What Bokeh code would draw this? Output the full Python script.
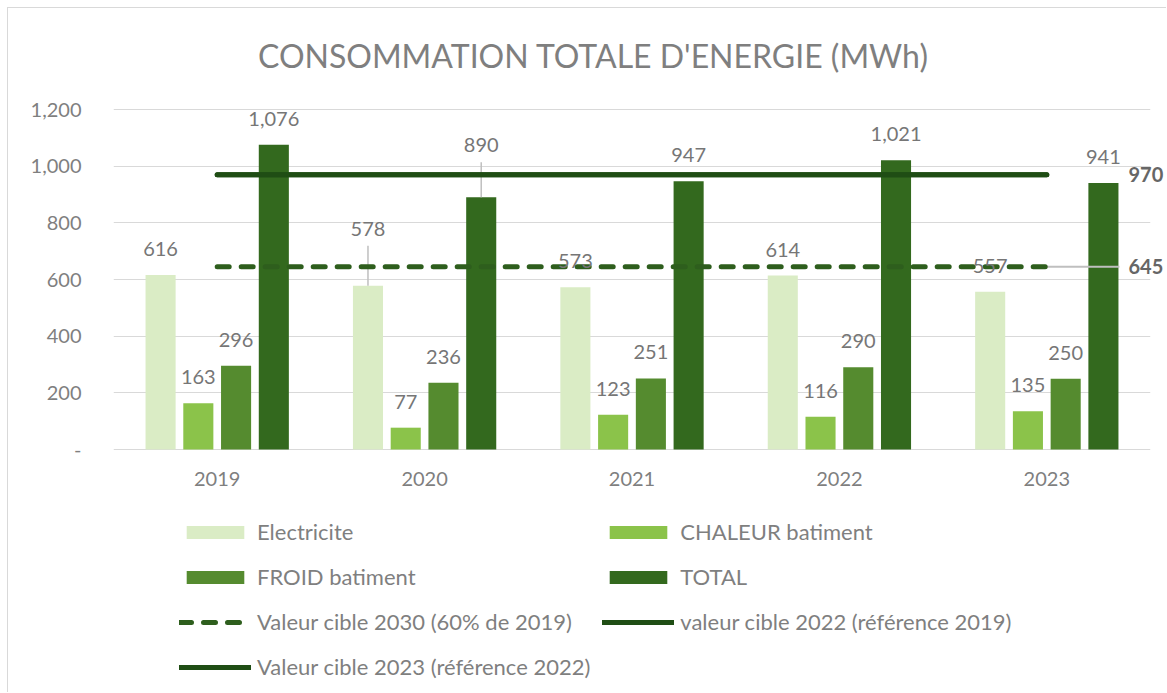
from bokeh.plotting import figure
from bokeh.models import (ColumnDataSource, FactorRange, Range1d, LabelSet, Label, LinearAxis,
                          Legend, LegendItem, FixedTicker, NumeralTickFormatter)
from bokeh.transform import dodge
from bokeh.core.properties import value
from bokeh.embed import file_html
from bokeh.resources import INLINE

# ---------------- data ----------------
years = ["2019", "2020", "2021", "2022", "2023"]
electricite = [616, 578, 573, 614, 557]
chaleur = [163, 77, 123, 116, 135]
froid = [296, 236, 251, 290, 250]
total = [1076, 890, 947, 1021, 941]
cible_2030 = [645, 645, 645, 645, 645]
cible_2022 = [970, 970, 970, 970, 970]
cible_2023 = [970, 970, 970, 970, 970]
y_ticks = [0, 200, 400, 600, 800, 1000, 1200]

title_text = "CONSOMMATION TOTALE D'ENERGIE (MWh)"
series_names = ["Electricite", "CHALEUR batiment", "FROID batiment", "TOTAL"]
line_names = ["Valeur cible 2030 (60% de 2019)", "valeur cible 2022 (référence 2019)",
              "Valeur cible 2023 (référence 2022)"]

# ---------------- layout / styles ----------------
OFF = 8                                # chart-area border offset (7px margin + 1px border)
W, H = 1159, 685
FRAME_LEFT, FRAME_RIGHT = 113 - OFF, 1150 - OFF
TOP_PX, ZERO_PX = 109 - OFF, 449 - OFF  # pixel rows of 1200 and 0
UNIT_PER_PX = 1200.0 / (ZERO_PX - TOP_PX)
Y_START = -(H - ZERO_PX) * UNIT_PER_PX
Y_END = 1200 + TOP_PX * UNIT_PER_PX

FONT = "Lato"
bar_colors = ["#DAECC5", "#8BC34A", "#558B2F", "#33691E"]
offsets = [-0.273, -0.091, 0.091, 0.273]
BAR_W = 0.145
LABEL_GREY = "#767676"
AXIS_GREY = "#7f7f7f"
GRID = "#d9d9d9"
DASH_COLOR = "#2E5E1D"
SOLID_COLOR = "#1F4D14"
LABEL_OFF = 26
label_shift = {(0, "2020"): 57, (3, "2020"): 52}   # labels moved up with leader lines

cols = {"e": electricite, "c": chaleur, "f": froid, "t": total}
keys = ["e", "c", "f", "t"]
data = dict(year=years, c2030=cible_2030, c2022=cible_2022, c2023=cible_2023)
for i, k in enumerate(keys):
    data[k] = cols[k]
    data[k + "_lbl"] = ["{:,}".format(v) for v in cols[k]]
    data[k + "_off"] = [label_shift.get((i, y), LABEL_OFF) for y in years]
src = ColumnDataSource(data)

p = figure(x_range=FactorRange(*years), y_range=Range1d(Y_START, Y_END),
           width=W, height=H, output_backend="svg", toolbar_location=None,
           x_axis_location=None,
           min_border_left=FRAME_LEFT, min_border_right=W - FRAME_RIGHT, min_border_top=0,
           min_border_bottom=0,
           styles={"margin-left": "7px", "margin-top": "7px",
                   "border-left": "1px solid #d9d9d9", "border-top": "1px solid #d9d9d9"})
p.outline_line_color = None
p.background_fill_color = "white"
p.xgrid.grid_line_color = None
p.ygrid.grid_line_color = GRID
p.ygrid.grid_line_width = 1

p.yaxis.ticker = FixedTicker(ticks=y_ticks)
p.yaxis.formatter = NumeralTickFormatter(format="0,0")
p.yaxis.major_label_overrides = {0: "-"}
p.yaxis.axis_line_color = None
p.yaxis.major_tick_line_color = None
p.yaxis.minor_tick_line_color = None
p.yaxis.major_tick_out = 0
p.yaxis.major_label_standoff = 32
p.yaxis.major_label_text_font = FONT
p.yaxis.major_label_text_font_size = "20px"
p.yaxis.major_label_text_color = AXIS_GREY

# right-hand value labels of the target lines
end_axis = LinearAxis(ticker=FixedTicker(ticks=[cible_2030[-1], cible_2022[-1]]),
                      formatter=NumeralTickFormatter(format="0,0"))
end_axis.axis_line_color = None
end_axis.major_tick_line_color = None
end_axis.minor_tick_line_color = None
end_axis.major_tick_out = 0
end_axis.major_tick_in = 0
end_axis.major_label_standoff = -22
end_axis.major_label_text_font = FONT
end_axis.major_label_text_font_size = "20px"
end_axis.major_label_text_font_style = "bold"
end_axis.major_label_text_color = "#666666"
p.add_layout(end_axis, "right")

# bars
bar_renderers = []
for i, k in enumerate(keys):
    r = p.vbar(x=dodge("year", offsets[i], range=p.x_range), top=k, width=BAR_W,
               source=src, fill_color=bar_colors[i], line_color=None)
    bar_renderers.append(r)

# leader lines for moved labels
for (i, yr), sh in label_shift.items():
    k = keys[i]
    v = cols[k][years.index(yr)]
    lsrc = ColumnDataSource(dict(year=[yr], y0=[v], y1=[v + (sh - 17) * UNIT_PER_PX]))
    x = dodge("year", offsets[i], range=p.x_range)
    p.segment(x0=x, y0="y0", x1=x, y1="y1", source=lsrc, line_color="#bfbfbf", line_width=1.5)

# leader line for 645 label
lead_src = ColumnDataSource(dict(year=[years[-1]], y=[cible_2030[-1]]))
p.segment(x0=dodge("year", 0.0, range=p.x_range), y0="y",
          x1=dodge("year", 0.35, range=p.x_range), y1="y",
          source=lead_src, line_color="#bfbfbf", line_width=2)

# target lines
l2030 = p.line(x="year", y="c2030", source=src, line_color=DASH_COLOR, line_width=5,
               line_dash="12 12", line_cap="round")
l2022 = p.line(x="year", y="c2022", source=src, line_color=SOLID_COLOR, line_width=5,
               line_cap="round")
l2023 = p.line(x="year", y="c2023", source=src, line_color=SOLID_COLOR, line_width=5,
               line_cap="round")

# data labels
for i, k in enumerate(keys):
    ls = LabelSet(x=dodge("year", offsets[i], range=p.x_range), y=k, text=k + "_lbl",
                  y_offset=k + "_off", source=src, text_align="center",
                  text_baseline="middle", text_font=value(FONT), text_font_size="20px",
                  text_color=LABEL_GREY)
    p.add_layout(ls)

# category labels (x axis)
p.add_layout(LabelSet(x="year", y=0, text="year", y_offset=-29, source=src,
                      text_align="center", text_baseline="middle", text_font=value(FONT),
                      text_font_size="20px", text_color=AXIS_GREY))

# title
p.add_layout(Label(x=2.314, y=1200 + (109 - 55) * UNIT_PER_PX, text=title_text,
                   text_align="center", text_baseline="middle", text_font=FONT,
                   text_font_size="32px", text_color=AXIS_GREY))

# legend
items = [
    LegendItem(label=series_names[0], renderers=[bar_renderers[0]]),
    LegendItem(label=series_names[1], renderers=[bar_renderers[1]]),
    LegendItem(label=series_names[2], renderers=[bar_renderers[2]]),
    LegendItem(label=series_names[3], renderers=[bar_renderers[3]]),
    LegendItem(label=line_names[0], renderers=[l2030]),
    LegendItem(label=line_names[1], renderers=[l2022]),
    LegendItem(label=line_names[2], renderers=[l2023]),
]
legend = Legend(items=items, orientation="horizontal", ncols=2, location=(179 - 113, 10),
                glyph_width=72, glyph_height=16, label_height=33, label_width=300,
                label_standoff=6, spacing=12, padding=0, margin=0,
                border_line_color=None, background_fill_alpha=0,
                label_text_font=FONT, label_text_font_size="22px",
                label_text_color=AXIS_GREY)
p.add_layout(legend)

open("out.html", "w").write(file_html(p, INLINE))
